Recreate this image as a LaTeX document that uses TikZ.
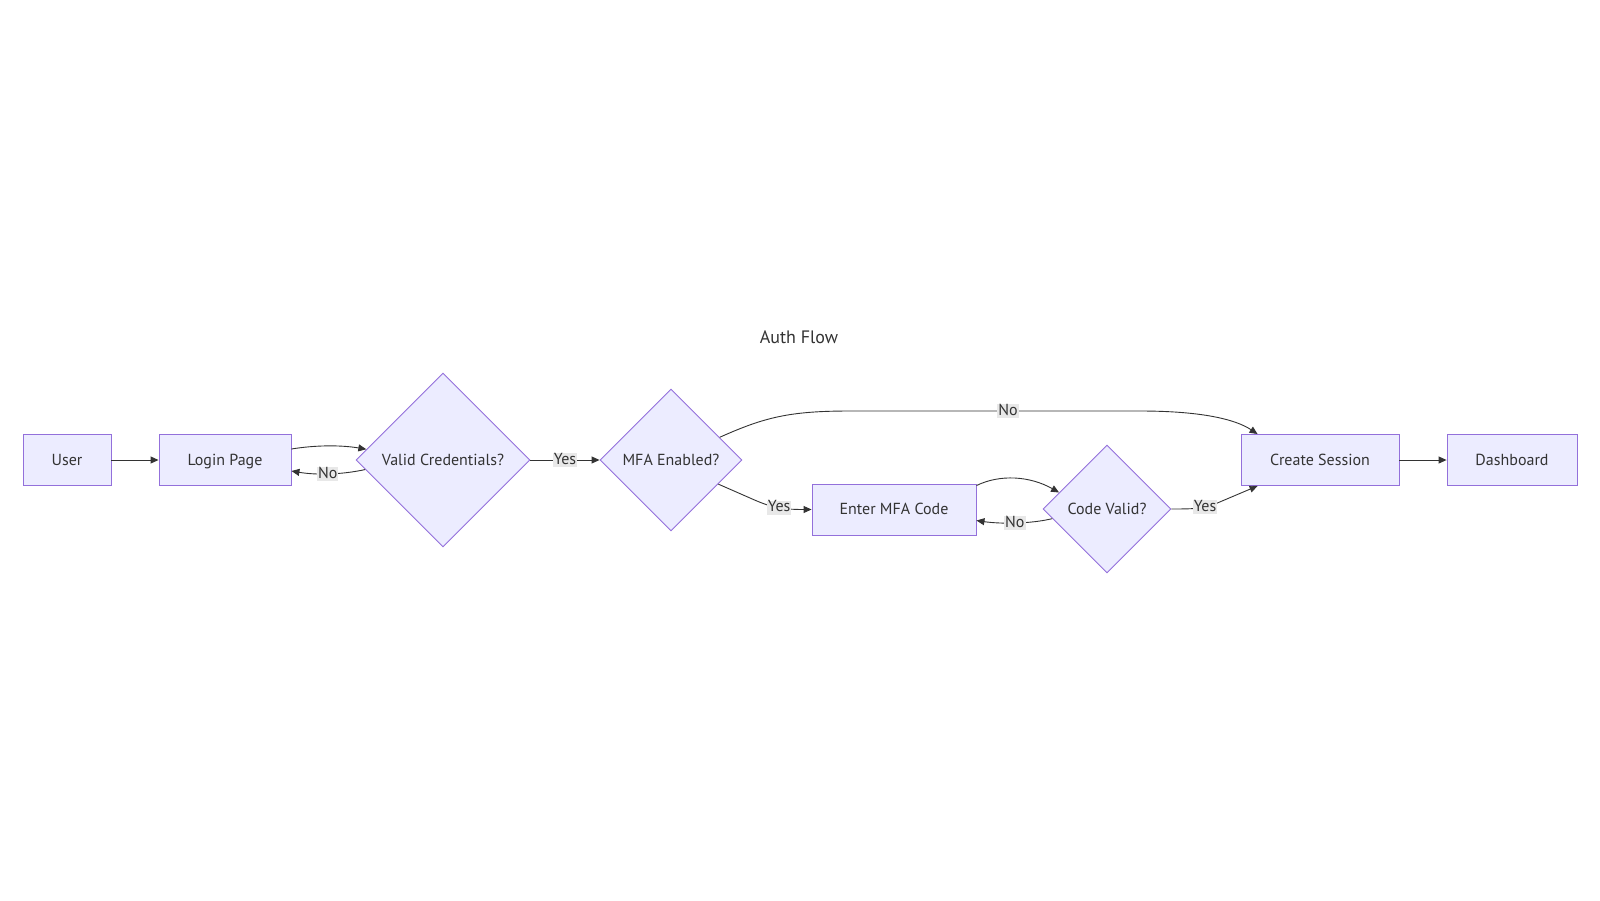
\documentclass[tikz,border=0pt]{standalone}
\usepackage{fontspec}
\setmainfont{PT Sans}
\usetikzlibrary{shapes.geometric,arrows.meta}
\definecolor{nodefill}{HTML}{ECECFF}
\definecolor{nodeline}{HTML}{9370DB}
\definecolor{edgecol}{HTML}{333333}
\definecolor{lblbg}{HTML}{E8E8E8}
\begin{document}
\begin{tikzpicture}[x=1pt,y=-1pt,
  txt/.style={font=\fontsize{16}{19}\selectfont, text=edgecol, text height=1.02em, text depth=0.02em},
  box/.style={txt, draw=nodeline, fill=nodefill, line width=0.9pt, minimum height=51pt, inner sep=0pt},
  dia/.style={txt, diamond, aspect=1, draw=nodeline, fill=nodefill, line width=0.9pt, inner sep=0pt},
  lbl/.style={txt, fill=lblbg, inner xsep=1pt, inner ysep=2pt, text height=0.94em, text depth=0.08em},
  conn/.style={draw=edgecol, line width=0.9pt, -{Triangle[length=8pt,width=7pt]}}
]
\useasboundingbox (0,0) rectangle (1600,900);

\node[txt, font=\fontsize{18}{21}\selectfont] (title) at (799,338) {Auth Flow};

\node[box, minimum width=88pt] (user) at (67,460) {User};
\node[box, minimum width=132pt] (login) at (225,460) {Login Page};
\node[dia, minimum width=174pt, minimum height=174pt] (vc) at (443,460) {Valid Credentials?};
\node[dia, minimum width=142pt, minimum height=142pt] (mfa) at (671,460) {MFA Enabled?};
\node[box, minimum width=164pt] (enter) at (894,509.5) {Enter MFA Code};
\node[dia, minimum width=128pt, minimum height=128pt] (cv) at (1107,509) {Code Valid?};
\node[box, minimum width=158pt] (create) at (1320,460) {Create Session};
\node[box, minimum width=130pt] (dash) at (1512,460) {Dashboard};

\draw[conn] (user) -- (login);
\draw[conn] ([yshift=11pt]login.east) .. controls (316,445) and (341,445) .. (vc.172.6);
\draw[conn] (vc.187.3) .. controls (340,475) and (315,475) .. ([yshift=-11pt]login.east) node[lbl,pos=0.5] {No};
\draw[conn] (vc.east) -- (mfa.west) node[lbl,midway] {Yes};
\draw[conn] (mfa.25) .. controls (765,417) and (790,411) .. (850,411) -- (1140,411) node[lbl,pos=0.545] {No}
  .. controls (1200,411) and (1235,419) .. ([xshift=17pt]create.north west);
\draw[conn] (mfa.-27) -- (750,498) .. controls (770,507) and (780,509.5) .. (enter.west) node[lbl,pos=0.55] {Yes};
\draw[conn] ([yshift=-2pt]enter.north east) .. controls (1000,474) and (1030,476) .. (cv.161);
\draw[conn] (cv.190.5) .. controls (1030,524) and (1000,524) .. ([yshift=-11pt]enter.east) node[lbl,pos=0.5] {No};
\draw[conn] (cv.east) .. controls (1200,509) and (1205,508) .. (1215,504) node[lbl,pos=0.65] {Yes}
  -- ([xshift=17pt]create.south west);
\draw[conn] (create) -- (dash);
\end{tikzpicture}
\end{document}
